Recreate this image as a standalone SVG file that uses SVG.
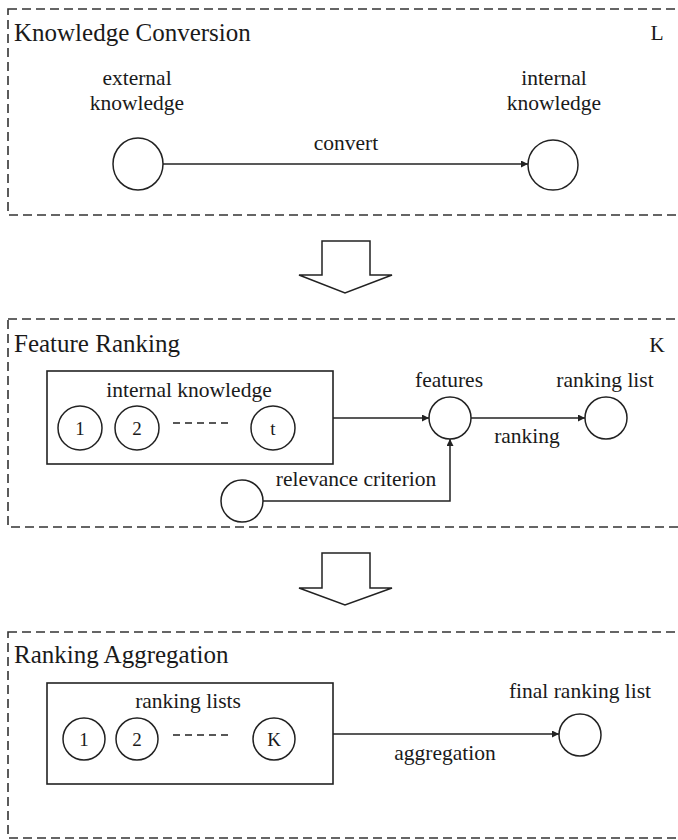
<svg xmlns="http://www.w3.org/2000/svg" width="678" height="840" viewBox="0 0 678 840" font-family="'Liberation Serif', 'DejaVu Serif', serif">
<style>
  text { font-family: "Liberation Serif", "DejaVu Serif", serif; fill: #1a1a1a; }
  .title { font-size: 25px; }
  .lbl { font-size: 21.5px; text-anchor: middle; }
  .num { font-size: 19px; text-anchor: middle; }
  .panel { fill: none; stroke: #333; stroke-width: 1.6; stroke-dasharray: 9 5; }
  .box { fill: none; stroke: #222; stroke-width: 1.6; }
  .node { fill: #fff; stroke: #222; stroke-width: 1.5; }
  .edge { fill: none; stroke: #222; stroke-width: 1.5; marker-end: url(#ah); }
  .dots { fill: none; stroke: #222; stroke-width: 1.5; stroke-dasharray: 7 5; }
  .big { fill: #fff; stroke: #222; stroke-width: 1.5; stroke-linejoin: miter; }
</style>
<defs>
  <marker id="ah" viewBox="0 0 10 10" refX="10" refY="5" markerWidth="9" markerHeight="7" markerUnits="userSpaceOnUse" orient="auto">
    <path d="M0,0 L10,5 L0,10 Z" fill="#222"/>
  </marker>
</defs>

<!-- Panel 1 -->
<g id="panel-conversion">
  <rect class="panel" x="8" y="9" width="700" height="206"/>
  <text class="title" x="14" y="41">Knowledge Conversion</text>
  <text class="lbl" x="657" y="40">L</text>
</g>
<g id="external-knowledge">
  <text class="lbl" x="137" y="85">external</text>
  <text class="lbl" x="137" y="110">knowledge</text>
  <ellipse class="node" cx="138" cy="164" rx="25" ry="26"/>
</g>
<g id="internal-knowledge-1">
  <text class="lbl" x="554" y="85">internal</text>
  <text class="lbl" x="554" y="110">knowledge</text>
  <ellipse class="node" cx="553" cy="165" rx="25" ry="25"/>
</g>

<!-- Arrow 1 -->
<g id="down-arrow-1">
  <path class="big" d="M322,241 L370,241 L370,275 L392,275 L345,293 L299,275 L322,275 Z"/>
</g>

<!-- Panel 2 -->
<g id="panel-ranking">
  <rect class="panel" x="8" y="319" width="700" height="208"/>
  <text class="title" x="14" y="352">Feature Ranking</text>
  <text class="lbl" x="657" y="352">K</text>
</g>
<g id="internal-knowledge-box">
  <rect class="box" x="47" y="371" width="286" height="93"/>
  <text class="lbl" x="189" y="397">internal knowledge</text>
  <circle class="node" cx="80" cy="428" r="22"/>
  <text class="num" x="80" y="435">1</text>
  <circle class="node" cx="137" cy="428" r="22"/>
  <text class="num" x="137" y="435">2</text>
  <path class="dots" d="M173,423 H231"/>
  <circle class="node" cx="273" cy="428" r="22"/>
  <text class="num" x="273" y="435">t</text>
</g>
<g id="features">
  <text class="lbl" x="449" y="387">features</text>
  <circle class="node" cx="450" cy="418" r="21"/>
</g>
<g id="ranking-list">
  <text class="lbl" x="605" y="387">ranking list</text>
  <circle class="node" cx="606" cy="418" r="21"/>
</g>
<g id="relevance-criterion">
  <circle class="node" cx="242" cy="501" r="21"/>
</g>

<!-- Arrow 2 -->
<g id="down-arrow-2">
  <path class="big" d="M322,553 L370,553 L370,588 L392,588 L345,605 L299,588 L322,588 Z"/>
</g>

<!-- Panel 3 -->
<g id="panel-aggregation">
  <rect class="panel" x="8" y="632" width="700" height="206"/>
  <text class="title" x="14" y="663">Ranking Aggregation</text>
</g>
<g id="ranking-lists-box">
  <rect class="box" x="47" y="683" width="286" height="101"/>
  <text class="lbl" x="188" y="708">ranking lists</text>
  <circle class="node" cx="84" cy="739" r="21"/>
  <text class="num" x="84" y="746">1</text>
  <circle class="node" cx="137" cy="739" r="21"/>
  <text class="num" x="137" y="746">2</text>
  <path class="dots" d="M173,735 H231"/>
  <circle class="node" cx="274" cy="739" r="21"/>
  <text class="num" x="274" y="746">K</text>
</g>
<g id="final-ranking-list">
  <text class="lbl" x="580" y="698">final ranking list</text>
  <circle class="node" cx="580" cy="735" r="21"/>
</g>

<!-- Connectors -->
<g id="connectors">
  <path class="edge" d="M163,164 H528"/>
  <text class="lbl" x="346" y="150">convert</text>
  <path class="edge" d="M333,418 H429"/>
  <path class="edge" d="M471,418 H585"/>
  <text class="lbl" x="527" y="443">ranking</text>
  <path class="edge" d="M263,501 H450 V439"/>
  <text class="lbl" x="356" y="486">relevance criterion</text>
  <path class="edge" d="M333,734 H559"/>
  <text class="lbl" x="445" y="760">aggregation</text>
</g>
</svg>
